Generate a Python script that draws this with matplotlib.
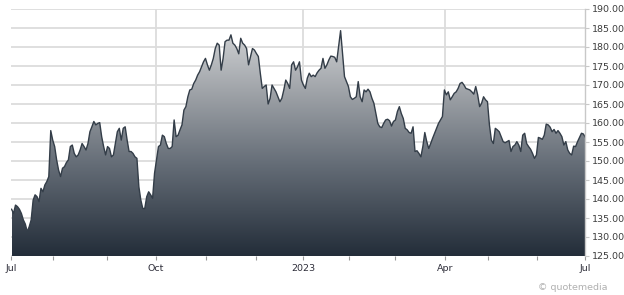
import numpy as np
import matplotlib
matplotlib.use("Agg")
import matplotlib.pyplot as plt
from matplotlib.colors import LinearSegmentedColormap
from matplotlib.patches import Polygon

prices = [
    137.3, 136.2, 138.4, 138.0, 137.3, 136.2, 134.5, 133.4, 131.4, 132.7,
    134.5, 139.7, 141.1, 140.6, 139.3, 142.8, 141.9, 143.7, 144.6, 145.9,
    158.0, 155.5, 153.8, 150.3, 147.6, 145.9, 148.1, 148.5, 149.6, 150.3,
    153.8, 154.2, 152.0, 151.1, 151.6, 152.9, 154.6, 153.8, 152.9, 154.6,
    157.7, 159.0, 160.4, 159.5, 159.9, 160.1, 156.4, 153.8, 151.6, 153.8,
    153.3, 151.1, 151.6, 154.6, 157.7, 158.6, 155.5, 158.6, 159.0, 155.5,
    152.5, 152.5, 152.0, 151.1, 150.7, 143.2, 139.7, 137.5, 137.5, 140.6,
    141.9, 141.1, 140.2, 146.8, 150.3, 153.8, 154.2, 156.8, 156.4, 154.6,
    153.3, 153.3, 153.8, 160.8, 156.4, 156.8, 158.2, 159.5, 163.4, 164.3,
    166.9, 168.7, 168.9, 170.4, 171.3, 172.6, 173.5, 174.8, 176.1, 177.0,
    175.3, 173.9, 175.3, 177.0, 179.6, 181.0, 180.5, 173.9, 177.0, 181.4,
    181.8, 181.8, 183.2, 181.0, 180.5, 179.6, 178.2, 182.3, 181.0, 180.5,
    179.6, 175.3, 177.5, 179.6, 179.2, 178.3, 177.5, 173.1, 169.1, 169.6,
    170.0, 165.0, 166.5, 170.0, 169.1, 168.2, 166.9, 165.6, 166.5, 168.7,
    171.3, 170.4, 169.1, 175.3, 176.1, 173.9, 174.8, 176.1, 171.3, 170.0,
    169.1, 171.8, 173.1, 172.2, 172.6, 172.2, 173.2, 173.9, 174.4, 177.0,
    174.4, 175.3, 176.6, 177.6, 177.5, 177.3, 176.1, 180.1, 184.3, 178.3,
    172.2, 170.9, 169.6, 166.9, 166.2, 166.5, 166.9, 170.9, 166.9, 165.6,
    168.7, 168.2, 168.9, 168.2, 166.5, 165.2, 162.5, 159.9, 159.0, 158.8,
    159.9, 160.8, 161.0, 160.6, 159.2, 160.4, 160.8, 163.0, 164.3, 162.5,
    161.2, 158.6, 158.2, 157.5, 157.3, 159.0, 152.5, 152.7, 152.0, 151.1,
    153.8, 157.5, 155.1, 153.3, 154.6, 156.0, 157.3, 158.6, 159.9, 160.8,
    161.7, 168.7, 167.4, 168.2, 166.1, 166.9, 167.8, 168.2, 169.1, 170.4,
    170.7, 170.0, 169.1, 168.9, 168.7, 168.2, 167.6, 169.6, 167.4, 164.3,
    165.2, 166.9, 166.1, 165.6, 159.5, 155.5, 154.6, 158.6, 158.2, 157.7,
    156.4, 155.1, 154.8, 155.1, 155.4, 152.5, 153.8, 154.2, 155.1, 154.2,
    152.5, 156.8, 157.3, 154.6, 153.8, 153.1, 152.0, 150.7, 151.6, 156.2,
    156.0, 155.7, 156.8, 159.7, 159.5, 158.9, 157.7, 158.3, 157.3, 158.0,
    157.3, 156.4, 154.2, 155.1, 152.9, 152.0, 151.6, 153.9, 153.8, 155.1,
    156.2, 157.3, 157.1, 156.2,
]

major_tick_pos = [-0.3, 73.75, 149, 221.5, 292.8]
major_tick_labels = ["Jul", "Oct", "2023", "Apr", "Jul"]
minor_tick_pos = [21.3, 48.5, 99.25, 124.7, 172.5, 195.8, 243.2, 268.2]
y_ticks = [125, 130, 135, 140, 145, 150, 155, 160, 165, 170, 175, 180, 185, 190]
y_min, y_max = 125, 190

x = np.arange(len(prices))
y = np.array(prices)

fig = plt.figure(figsize=(6.24, 2.95), dpi=100)
ax = fig.add_axes([11 / 624, 39 / 295, 574 / 624, 247 / 295])
ax.set_xlim(-0.3, 292.8)
ax.set_ylim(y_min, y_max)

# grid
for t in y_ticks:
    ax.axhline(t, color="#dcdcdc", lw=1.3, zorder=0)
for p in major_tick_pos[1:4]:
    ax.axvline(p, color="#dcdcdc", lw=1.3, zorder=0)

# gradient fill
cmap = LinearSegmentedColormap.from_list(
    "g", [(0.0, "#232d39"), (0.4, "#656d77"), (0.72, "#a0a4a9"), (1.0, "#d3d5d7")])
grad = np.linspace(0, 1, 256).reshape(-1, 1)
verts = np.vstack([[x[0], y_min], np.column_stack([x, y]), [x[-1], y_min]])
poly = Polygon(verts, closed=True, facecolor="none", edgecolor="none")
ax.add_patch(poly)
im = ax.imshow(grad, aspect="auto", cmap=cmap, origin="lower",
               extent=[x[0], x[-1], y_min, 185.5], zorder=1)
im.set_clip_path(poly)
ax.plot(x, y, color="#333d48", lw=1.0, zorder=2)

# axes styling
for s in ["top", "left", "bottom"]:
    ax.spines[s].set_visible(False)
ax.spines["right"].set_color("#c8c8c8")
ax.spines["right"].set_linewidth(1.0)
ax.yaxis.tick_right()
ax.set_yticks(y_ticks)
ax.set_yticklabels([f"{t:.2f}" for t in y_ticks], fontsize=6.8, color="#3c3c3c")
ax.tick_params(axis="y", length=3, width=0.8, color="#c8c8c8", pad=2)

ax.set_xticks(major_tick_pos)
ax.set_xticklabels(major_tick_labels, fontsize=6.8, color="#2e2e3a")
ax.set_xticks(minor_tick_pos, minor=True)
ax.tick_params(axis="x", which="both", length=3, width=0.8, color="#999999", pad=3)

fig.text(607 / 624, 1 - 288 / 295, "© quotemedia", fontsize=6.8, color="#b0b0b0",
         ha="right", va="center")

fig.savefig("out.png", dpi=100)
